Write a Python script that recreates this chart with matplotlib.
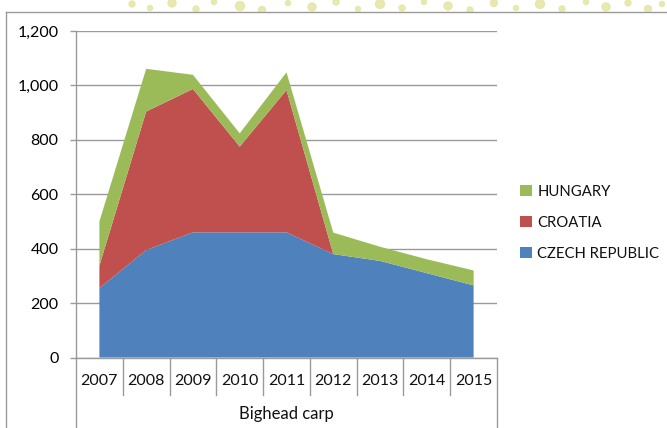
import matplotlib
matplotlib.use("Agg")
import matplotlib.pyplot as plt
import matplotlib.transforms as mtransforms
from matplotlib.patches import Ellipse
from matplotlib.lines import Line2D
import numpy as np

years = ['2007', '2008', '2009', '2010', '2011', '2012', '2013', '2014', '2015']
czech = [255, 395, 460, 460, 460, 380, 355, 310, 265]
croatia = [82, 509, 527, 315, 523, 0, 0, 0, 0]
hungary = [163, 157, 52, 49, 65, 79, 52, 51, 55]
group_label = 'Bighead carp'

BLUE, RED, GREEN = '#4F81BD', '#C0504D', '#9BBB59'
GRID = '#9a9a9a'
plt.rcParams['font.family'] = ['Lato', 'DejaVu Sans']

fig = plt.figure(figsize=(6.67, 4.28), dpi=100)

# faint dotted page background peeking above the chart frame
dots = [(132, 4, 6), (150, 8, 5), (172, 3, 8), (196, 9, 6), (214, 2, 5),
        (240, 6, 9), (262, 10, 7), (288, 3, 5), (312, 7, 8), (336, 2, 6),
        (358, 9, 5), (380, 4, 9), (402, 8, 6), (424, 2, 5), (448, 6, 8),
        (470, 10, 6), (494, 3, 7), (516, 8, 5), (540, 4, 9), (562, 9, 6),
        (586, 2, 5), (606, 7, 8), (628, 3, 6), (648, 9, 7), (662, 4, 5)]
for dx, dy, ds in dots:
    fig.patches.append(Ellipse((dx / 667, 1 - dy / 428), ds / 667, ds / 428,
                               transform=fig.transFigure, color='#e4e6a4',
                               alpha=0.85, zorder=0))
# white chart area covers the dots below its top edge
fig.patches.append(plt.Rectangle((6 / 667, 0), 1, 1 - 12 / 428,
                                 transform=fig.transFigure, color='white',
                                 zorder=0.5))

# chart area frame (left and top edges visible)
fig.add_artist(Line2D([6 / 667, 6 / 667], [0, 1 - 12 / 428], color=GRID, lw=1))
fig.add_artist(Line2D([6 / 667, 1], [1 - 12 / 428, 1 - 12 / 428], color=GRID, lw=1))

ax = fig.add_axes([76 / 667, 1 - 357.5 / 428, 421 / 667, 326.5 / 428])
ax.set_zorder(2)
ax.patch.set_alpha(0)
x = np.arange(len(years))
ax.stackplot(x, czech, croatia, hungary, colors=[BLUE, RED, GREEN],
             labels=['CZECH REPUBLIC', 'CROATIA', 'HUNGARY'], zorder=2)

ax.set_xlim(-0.5, len(years) - 0.5)
ax.set_ylim(0, 1200)
ax.set_yticks(np.arange(0, 1201, 200))
ax.set_yticklabels([f'{v:,}' for v in range(0, 1201, 200)], fontsize=11.5)
ax.yaxis.grid(True, color=GRID, lw=1)
ax.set_axisbelow(True)
ax.tick_params(axis='y', length=4.5, width=1, color=GRID, pad=8)
ax.set_xticks([])
for side in ['top', 'right']:
    ax.spines[side].set_visible(False)
for side in ['left', 'bottom']:
    ax.spines[side].set_color(GRID)
    ax.spines[side].set_linewidth(1)

# multi-level category axis: year separators, year labels, group label
trans = mtransforms.blended_transform_factory(ax.transData, ax.transAxes)
bounds = np.arange(-0.5, len(years), 1)
for i, b in enumerate(bounds):
    bottom = -0.22 if i in (0, len(bounds) - 1) else -0.115
    ax.add_line(Line2D([b, b], [0, bottom], transform=trans, color=GRID,
                       lw=1, clip_on=False))
for i, yr in enumerate(years):
    ax.text(i, -0.072, yr, transform=trans, ha='center', va='center',
            fontsize=11.5, color='#111111')
ax.text((len(years) - 1) / 2, -0.172, group_label, transform=trans,
        ha='center', va='center', fontsize=12, color='#111111')

handles, labels = ax.get_legend_handles_labels()
leg = fig.legend(handles[::-1], labels[::-1], loc='center left',
                 bbox_to_anchor=(507 / 667, 1 - 223 / 428), frameon=False,
                 fontsize=10.7, handlelength=0.75, handleheight=0.75,
                 handletextpad=0.4, labelspacing=1.15)
leg.set_zorder(3)
for t in leg.get_texts():
    t.set_color('#111111')

fig.savefig('out.png', dpi=100)
